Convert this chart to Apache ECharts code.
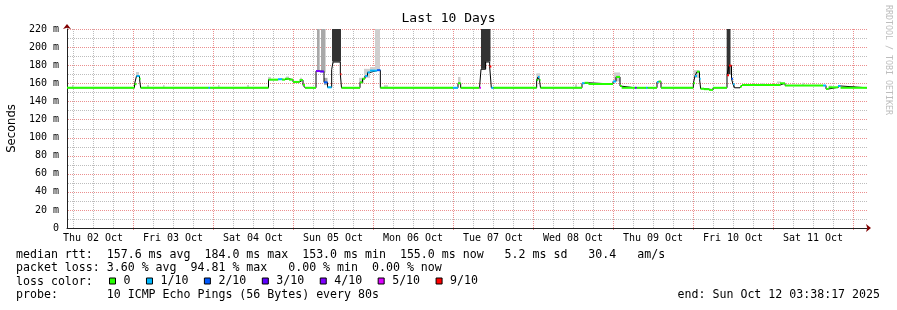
<!DOCTYPE html>
<html><head><meta charset="utf-8">
<script src="https://cdn.jsdelivr.net/npm/echarts@6/dist/echarts.min.js"></script>
<style>html,body{margin:0;padding:0;background:#fff}#c{width:897px;height:310px}</style>
</head><body><div id="c"></div>
<script>
// x values are hours since Thu 02 Oct 00:00
const dayLabels = ['Thu 02 Oct','Fri 03 Oct','Sat 04 Oct','Sun 05 Oct','Mon 06 Oct','Tue 07 Oct','Wed 08 Oct','Thu 09 Oct','Fri 10 Oct','Sat 11 Oct'];
const labelHours = [12,36,60,84,108,132,156,180,204,228];
const midnightHours = [24,48,72,96,120,144,168,192,216,240];
const sixHourHours = [6,12,18,30,36,42,54,60,66,78,84,90,102,108,114,126,132,138,150,156,162,174,180,186,198,204,210,222,228,234];
const xStart = 4.2, xEnd = 244.2;

const yMax = 220, yMajor = 20;
const yMajorTicks = [20,40,60,80,100,120,140,160,180,200,220];
const yMinorTicks = [10,30,50,70,90,110,130,150,170,190,210];

const lossNames = ['0','1/10','2/10','3/10','4/10','5/10','9/10'];
const lossColors = ['#26ff00','#00b8ff','#0059ff','#5e00ff','#7e00ff','#dd00ff','#ff0000'];

// median rtt (ms), held from medTime[i] to medTime[i+1]; medLoss = index into lossNames (-1: not coloured)
const medTime = [4.2,24.45,25.05,25.95,26.3,46.65,47.1,64.65,67.5,68.7,69.6,70.8,72.0,73.95,75.0,75.6,78.9,80.1,81.3,82.35,83.6,84.0,86.2,86.55,92.1,92.85,93.6,94.35,95.1,97.2,98.2,120.0,121.5,122.3,127.95,128.4,129.8,131.0,131.5,132.1,145.1,145.5,145.95,146.25,158.7,159.45,160.65,168.0,168.9,170.1,170.6,174.6,175.05,177.9,178.35,181.2,181.65,182.4,192.1,192.6,193.2,193.95,194.3,195.3,196.8,198.0,202.2,202.8,203.55,204.0,204.45,206.1,206.7,218.1,219.6,231.0,231.9,232.65,235.5,236.25,244.2];
const medValue = [155,159,168,165,155,155,155,164,164.5,164,165,164,161.5,163.5,158,155,173.5,173,161,155.5,175,183.5,170,155,161,165,168,172,174,174.5,155,155,160,155,155,175.5,183.5,178.5,155,155,163.5,167,163.5,155,160,160.5,159.2,162,167,157,155,155,155,155,155,161.5,162,155,160,168,172.8,165,154,153.5,152.7,155,169,179.5,165,159,155,156.5,158,160,157.5,157.5,153.7,155.5,157,155];
const medLoss = [0,0,1,0,0,1,0,0,1,0,0,0,0,0,0,0,4,3,2,1,-1,-1,6,0,0,0,1,1,1,2,0,1,0,0,5,-1,-1,6,1,0,0,1,0,0,1,0,0,1,0,0,0,3,0,1,0,1,0,0,0,1,0,1,0,0,0,0,6,6,2,1,-1,0,0,0,0,1,0,0,1,0];

// smoke (spread of individual pings)
const smokeStart = [5.7,24.9,28.2,33.0,49.5,58.2,64.5,69.9,74.1,79.2,80.4,81.3,83.7,91.8,93.3,95.1,96.6,99.3,121.5,128.4,129.9,145.05,156.6,168.3,192.15,202.1,204.0,212.1,217.2,224.7,232.8,239.4];
const smokeEnd   = [6.15,25.8,28.8,33.45,49.95,58.8,65.4,70.8,74.7,80.0,81.75,82.35,86.4,93.3,95.1,96.6,98.1,100.5,122.25,129.9,131.25,146.1,157.2,170.1,193.95,203.25,204.6,213.6,218.4,225.3,233.7,240.6];
const smokeLow   = [155,168,155,155,155,155,164,165,163.5,174,172,158,184,160,166,174,175,155,160,176,184,163,155,162,166,170,156,157.5,160,157.5,155,155];
const smokeHigh  = [158,172.5,158,158,158,158,167,167.5,166,220,220,166,220,166,176,178,220,158,167,220,220,171,159,172,174.5,220,160,160,162,160.5,157.5,157];
const smokeShade = [0,0,0,0,0,0,0,0,0,1,1,1,2,0,0,0,0,0,0,2,2,0,0,0,0,2,1,0,0,0,0,0];
const smokeColors = ['#cfcfcf','#a8a8a8','#333333'];

const legendLines = [
  'median rtt:  157.6 ms avg  184.0 ms max  153.0 ms min  155.0 ms now   5.2 ms sd   30.4   am/s',
  'packet loss: 3.60 % avg  94.81 % max   0.00 % min  0.00 % now',
  'loss color:',
  'probe:       10 ICMP Echo Pings (56 Bytes) every 80s'
];
const endText = 'end: Sun Oct 12 03:38:17 2025';

const MONO = '"DejaVu Sans Mono", monospace';
const MGRID = '#eb8f8f', GRID = '#bdbdbd', AXIS = '#212121', ARROW = '#800000';

// ---- build
const stepData = [];
for (let i = 0; i < medValue.length; i++) stepData.push([medTime[i], medValue[i]]);
stepData.push([medTime[medTime.length - 1], medValue[medValue.length - 1]]);

const segSeries = lossNames.map((nm, k) => {
  const d = [];
  for (let i = 0; i < medValue.length; i++) if (medLoss[i] === k) d.push([medTime[i], medTime[i + 1], medValue[i]]);
  return {
    type: 'custom', name: nm, data: d, z: 5, silent: true,
    itemStyle: {color: lossColors[k]},
    encode: {x: [0, 1], y: 2},
    renderItem: function (params, api) {
      const a = api.coord([api.value(0), api.value(2)]);
      const b = api.coord([api.value(1), api.value(2)]);
      return {type: 'line', shape: {x1: a[0], y1: a[1], x2: b[0], y2: b[1]},
        style: {stroke: lossColors[k], lineWidth: 2, lineCap: 'butt'}};
    }
  };
});

const smokeData = smokeStart.map((s, i) => [s, smokeEnd[i], smokeLow[i], smokeHigh[i], smokeShade[i]]);

// grid lines (kind 0 minor grey, 1 major red)
const vGrid = sixHourHours.map(h => [h, 0]).concat(midnightHours.map(h => [h, 1]));
const hGrid = yMinorTicks.map(v => [v, 0]).concat(yMajorTicks.map(v => [v, 1]));

const chart = echarts.init(document.getElementById('c'), null, {renderer: 'canvas'});
chart.setOption({
  animation: false,
  backgroundColor: '#fff',
  title: {text: 'Last 10 Days', left: 'center', top: 12, padding: 0,
    textStyle: {fontFamily: MONO, fontSize: 13, fontWeight: 'normal', color: '#000'}},
  grid: {left: 67, right: 30, top: 29, bottom: 82, containLabel: false, outerBoundsMode: 'none'},
  legend: {
    data: lossNames, left: 109, top: 275, padding: 0, icon: 'rect',
    itemWidth: 6, itemHeight: 6, itemGap: 15.5, selectedMode: false,
    itemStyle: {borderColor: '#000', borderWidth: 1},
    textStyle: {fontFamily: MONO, fontSize: 11.6, color: '#000', padding: [0, 0, 0, 3]}
  },
  xAxis: [
    {type: 'value', min: xStart, max: xEnd, position: 'bottom', z: 3,
      axisLine: {show: true, lineStyle: {color: AXIS, width: 1}},
      axisTick: {show: false},
      axisLabel: {customValues: labelHours, margin: 5, fontFamily: MONO, fontSize: 10, color: '#000',
        formatter: function (v) { return dayLabels[labelHours.indexOf(v)] || ''; }},
      splitLine: {show: false}},
    {type: 'value', min: xStart, max: xEnd, position: 'bottom', z: 3,
      axisLine: {show: true, symbol: ['none', 'arrow'], symbolSize: [6, 5], symbolOffset: [0, 4],
        lineStyle: {color: ARROW, width: 0}},
      axisLabel: {show: false}, axisTick: {show: false}, splitLine: {show: false}}
  ],
  yAxis: [
    {type: 'value', min: 0, max: yMax, interval: yMajor, position: 'left', z: 3,
      name: 'Seconds', nameLocation: 'middle', nameGap: 49,
      nameTextStyle: {fontFamily: '"DejaVu Sans", sans-serif', fontSize: 11.6, color: '#000'},
      axisLine: {show: true, lineStyle: {color: AXIS, width: 1}},
      axisTick: {show: false},
      axisLabel: {margin: 8, fontFamily: MONO, fontSize: 10, color: '#000',
        formatter: function (v) { return v === 0 ? '0' : v + ' m'; }},
      splitLine: {show: false}},
    {type: 'value', min: 0, max: yMax, position: 'left', z: 3,
      axisLine: {show: true, symbol: ['none', 'arrow'], symbolSize: [6, 5], symbolOffset: [0, 5],
        lineStyle: {color: ARROW, width: 0}},
      axisLabel: {show: false}, axisTick: {show: false}, splitLine: {show: false}}
  ],
  graphic: [
    {type: 'text', x: 16, y: 254.5, style: {text: legendLines[0], font: '11.6px ' + MONO, fill: '#000', verticalAlign: 'middle'}},
    {type: 'text', x: 16, y: 268, style: {text: legendLines[1], font: '11.6px ' + MONO, fill: '#000', verticalAlign: 'middle'}},
    {type: 'text', x: 16, y: 281.5, style: {text: legendLines[2], font: '11.6px ' + MONO, fill: '#000', verticalAlign: 'middle'}},
    {type: 'text', x: 16, y: 295, style: {text: legendLines[3], font: '11.6px ' + MONO, fill: '#000', verticalAlign: 'middle'}},
    {type: 'text', x: 880, y: 295, style: {text: endText, font: '11.6px ' + MONO, fill: '#000', align: 'right', verticalAlign: 'middle'}},
    {type: 'text', x: 888, y: 5, rotation: -Math.PI / 2, style: {text: 'RRDTOOL / TOBI OETIKER', font: '8.3px ' + MONO, fill: '#bdbdbd', align: 'left', verticalAlign: 'middle'}}
  ],
  series: [
    {type: 'custom', name: 'vgrid', data: vGrid, z: 0, silent: true, encode: {x: 0},
      renderItem: function (params, api) {
        const cs = params.coordSys;
        const x = Math.round(api.coord([api.value(0), 0])[0]) + 0.5;
        const major = api.value(1) === 1;
        return {type: 'line', shape: {x1: x, y1: cs.y, x2: x, y2: cs.y + cs.height + (major ? 2 : 0)},
          style: {stroke: major ? MGRID : GRID, lineWidth: 1, lineDash: [1, 1]}, z2: major ? 2 : 1};
      }},
    {type: 'custom', name: 'hgrid', data: hGrid, z: 0, silent: true, encode: {y: 0},
      renderItem: function (params, api) {
        const cs = params.coordSys;
        const y = Math.round(api.coord([xStart, api.value(0)])[1]) + 0.5;
        const major = api.value(1) === 1;
        return {type: 'line', shape: {x1: cs.x + 1, y1: y, x2: cs.x + cs.width, y2: y},
          style: {stroke: major ? MGRID : GRID, lineWidth: 1, lineDash: [1, 1]}, z2: major ? 2 : 1};
      }},
    {type: 'custom', name: 'smoke', data: smokeData, z: 2, silent: true, clip: true,
      encode: {x: [0, 1], y: [2, 3]},
      renderItem: function (params, api) {
        const p0 = api.coord([api.value(0), api.value(3)]);
        const p1 = api.coord([api.value(1), api.value(2)]);
        const top = Math.max(p0[1], params.coordSys.y);
        return {type: 'rect', shape: {x: p0[0], y: top, width: p1[0] - p0[0], height: p1[1] - top},
          style: {fill: smokeColors[api.value(4)]}};
      }},
    {type: 'line', name: 'median', data: stepData, step: 'end', symbol: 'none', z: 4, silent: true,
      lineStyle: {color: '#000', width: 1}},
    ...segSeries
  ]
});
</script></body></html>
